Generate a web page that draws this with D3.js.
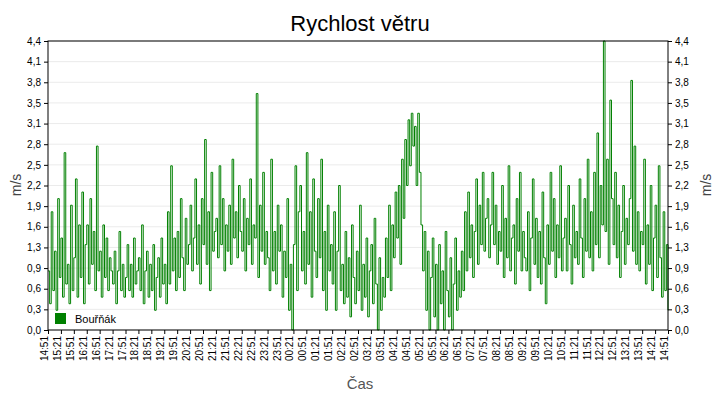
<!DOCTYPE html><html><head><meta charset="utf-8"><script src="https://d3js.org/d3.v7.min.js"></script>
<style>body{margin:0;background:#fff}text{font-family:Arial,"Liberation Sans",sans-serif}</style></head><body><svg id="c" width="720" height="400"></svg>
<script>
const seriesName="Bouřňák";
const timeLabels=["14:51","15:21","15:51","16:21","16:51","17:21","17:51","18:21","18:51","19:21","19:51","20:21","20:51","21:21","21:51","22:21","22:51","23:21","23:51","00:21","00:51","01:21","01:51","02:21","02:51","03:21","03:51","04:21","04:51","05:21","05:51","06:21","06:51","07:21","07:51","08:21","08:51","09:21","09:51","10:21","10:51","11:21","11:51","12:21","12:51","13:21","13:51","14:21","14:51"];
const windValues=[
0.9,0.4,1.8,0.6,1.2,0.3,2.0,0.8, 1.4,0.5,2.7,0.7,1.0,0.4,1.9,0.6, 1.1,2.3,0.5,1.6,0.8,2.1,0.4,1.3, 1.6,0.7,2.0,1.0,1.5,0.6,2.8,0.9,
1.2,0.5,1.6,0.8,1.4,0.6,1.1,0.9, 0.7,1.2,0.4,0.9,1.5,0.6,1.0,0.5, 0.8,1.3,0.6,1.0,0.5,1.4,0.7,0.9, 1.1,0.6,1.6,0.4,0.9,1.2,0.5,1.0,
0.6,1.3,0.3,0.8,1.1,0.5,1.4,0.7, 1.0,0.4,1.8,0.7,2.5,0.9,1.4,0.6, 1.5,0.8,2.0,1.1,0.6,1.7,1.0,1.3, 1.9,0.9,1.4,2.3,1.0,1.6,0.7,2.0,
1.3,2.9,1.0,1.8,0.6,2.4,1.2,1.5, 1.7,1.1,2.5,1.3,2.0,0.9,1.6,1.2, 1.9,1.0,2.6,1.4,1.8,1.1,2.2,1.5, 1.2,2.0,0.9,1.7,1.3,2.3,1.0,1.6,
1.4,3.6,0.8,1.9,1.2,2.4,1.0,1.5, 1.1,0.6,2.6,0.9,1.5,0.7,1.9,1.2, 1.6,0.5,1.2,0.8,2.0,0.3,1.0,0.0, 1.3,2.5,0.6,1.8,2.2,0.9,1.5,0.7,
2.7,1.0,1.8,0.5,2.3,1.2,0.8,2.0, 1.1,2.6,0.6,1.5,0.3,1.9,0.9,1.3, 0.7,1.8,0.3,1.2,2.2,0.6,1.0,0.4, 1.5,0.5,1.1,0.2,1.6,0.8,0.4,1.2,
0.6,1.9,0.3,1.0,0.5,1.4,0.2,0.9, 1.3,0.4,1.7,0.7,0.0,1.1,0.3,0.8, 0.5,1.4,0.8,1.9,0.6,1.6,1.1,2.1, 1.4,2.2,1.0,2.6,1.7,2.9,2.2,3.2,
2.5,3.3,2.8,3.1,2.2,3.3,2.4,1.6, 0.9,1.5,0.3,1.2,0.0,0.8,1.4,0.2, 1.0,0.0,1.3,0.4,0.9,0.0,1.5,0.6, 0.2,1.1,0.0,0.7,1.4,0.3,0.9,0.5,
1.2,0.6,1.8,0.9,2.1,1.1,1.6,0.8, 1.5,2.3,1.0,1.9,1.3,2.4,1.2,1.7, 2.0,1.1,1.6,2.4,1.3,1.9,1.0,1.5, 1.2,2.2,0.8,1.7,1.1,2.5,0.9,1.4,
1.6,0.7,2.0,1.2,2.4,0.9,1.5,1.1, 0.9,1.8,0.6,1.4,2.3,1.0,1.7,0.8, 1.5,0.7,2.1,1.1,0.4,1.6,1.0,2.4, 1.2,2.0,0.8,1.6,1.1,2.5,0.9,1.4,
1.7,0.9,2.2,1.3,0.7,1.9,1.1,1.5, 1.0,2.3,1.4,0.8,2.0,1.2,2.6,1.1, 1.8,0.9,2.4,1.3,3.0,1.1,2.2,1.6, 4.4,1.5,2.6,1.0,3.5,2.0,1.3,2.4,
1.1,1.9,0.8,1.5,2.2,1.0,1.7,1.3, 2.0,3.8,1.2,2.8,1.0,1.8,0.9,1.5, 1.3,2.6,0.7,1.6,1.0,2.2,0.6,1.4, 1.9,0.8,2.5,1.1,0.5,1.8,0.6,1.3,
0.3];
const yMax=4.4, yTickCount=14;
const L=48,R=668,T=41,B=330;
const svg=d3.select("#c");
const x=d3.scaleLinear().domain([0,windValues.length-1]).range([L,R]);
const xl=d3.scaleLinear().domain([0,timeLabels.length-1]).range([L,R]);
const y=d3.scaleLinear().domain([0,yMax]).range([B,T]);
const yt=d3.range(yTickCount+1).map(i=>i*yMax/yTickCount);
const fmt=v=>d3.format(".1f")(v).replace(".",",");
svg.append("g").selectAll("line").data(yt).join("line").attr("x1",L).attr("x2",R).attr("y1",d=>y(d)).attr("y2",d=>y(d)).attr("stroke","#ebebeb");
svg.append("path").datum(windValues).attr("fill","none").attr("stroke","#008000").attr("stroke-width",1)
 .attr("d",d3.line().curve(d3.curveStepAfter).x((d,i)=>x(i)).y(d=>y(d)));
svg.append("rect").attr("x",L).attr("y",T).attr("width",R-L).attr("height",B-T).attr("fill","none").attr("stroke","#000");
const ya=d3.axisLeft(y).tickValues(yt).tickFormat(fmt).tickSize(4);
const yb=d3.axisRight(y).tickValues(yt).tickFormat(fmt).tickSize(4);
const g1=svg.append("g").attr("transform",`translate(${L},0)`).call(ya);
const g2=svg.append("g").attr("transform",`translate(${R},0)`).call(yb);
const xa=d3.axisBottom(xl).tickValues(d3.range(timeLabels.length)).tickFormat(i=>timeLabels[i]).tickSize(4);
const g3=svg.append("g").attr("transform",`translate(0,${B})`).call(xa);
g3.selectAll("text").attr("transform","rotate(-90)").attr("text-anchor","end").attr("x",-6).attr("y",-4).attr("dy","0.35em");
[g1,g2,g3].forEach(g=>{g.select(".domain").remove();g.selectAll("text").attr("font-size",10).attr("fill","#000");});
svg.append("text").attr("x",360).attr("y",31).attr("text-anchor","middle").attr("font-size",22).text("Rychlost větru");
svg.append("text").attr("transform","translate(21,185) rotate(-90)").attr("text-anchor","middle").attr("font-size",14).attr("fill","#444").text("m/s");
svg.append("text").attr("transform","translate(711,185) rotate(-90)").attr("text-anchor","middle").attr("font-size",14).attr("fill","#444").text("m/s");
svg.append("text").attr("x",360).attr("y",389).attr("text-anchor","middle").attr("font-size",15).attr("fill","#555").text("Čas");
svg.append("rect").attr("x",55).attr("y",313).attr("width",11).attr("height",11).attr("fill","#008000");
svg.append("text").attr("x",75).attr("y",323).attr("font-size",11).text(seriesName);
</script></body></html>
